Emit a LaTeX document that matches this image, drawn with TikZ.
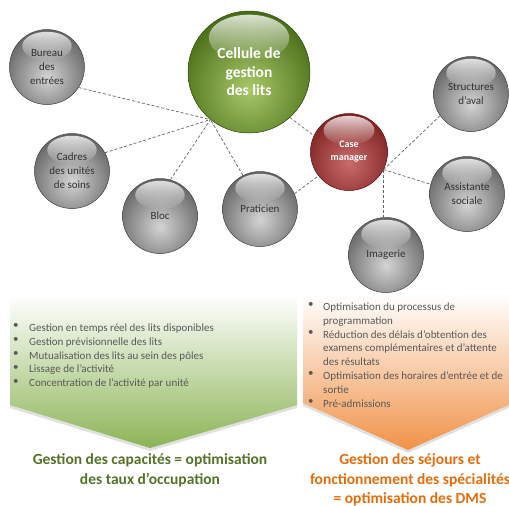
\documentclass[tikz,border=0pt]{standalone}
\usepackage{fontspec}
\setmainfont{Carlito}
\usetikzlibrary{fadings,calc}
\definecolor{gdark}{RGB}{100,100,100}
\definecolor{glight}{RGB}{212,212,212}
\definecolor{vdark}{RGB}{72,108,22}
\definecolor{vlight}{RGB}{168,200,105}
\definecolor{rdark}{RGB}{128,34,34}
\definecolor{rlight}{RGB}{200,108,108}
\definecolor{lbltext}{RGB}{50,50,50}
\definecolor{bultext}{RGB}{89,89,89}
\definecolor{chgreen}{RGB}{140,180,86}
\definecolor{chorange}{RGB}{240,146,72}
\definecolor{ttlgreen}{RGB}{84,114,40}
\definecolor{ttlorange}{RGB}{228,108,10}
\definecolor{lnk}{RGB}{100,100,100}
\begin{document}
\begin{tikzpicture}[x=1pt,y=-1pt,
  sph/.style n args={3}{circle, minimum size=#3pt, inner sep=0pt,
    draw=#1!75!black, line width=0.5pt, fill=#1,
    path picture={
      \shade[inner color=#2, outer color=#1]
        ([yshift=-0.16*#3pt]path picture bounding box.center) circle (0.62*#3);
      \fill[white, path fading=south, fill opacity=0.8]
        ([yshift=0.28*#3pt]path picture bounding box.center) ellipse (0.33*#3 and 0.19*#3);
    }},
  graysph/.style={sph={gdark}{glight}{75}, text=lbltext, align=center,
    font=\fontsize{11}{14}\selectfont},
  greensph/.style={sph={vdark}{vlight}{122}, text=white, align=center,
    font=\fontsize{15.5}{18.5}\selectfont\bfseries},
  redsph/.style={sph={rdark}{rlight}{77}, text=white, align=center,
    font=\fontsize{10}{13}\selectfont\bfseries},
  link/.style={draw=lnk, line width=0.7pt, dash pattern=on 3pt off 2pt},
  bullist/.style={anchor=north west, inner sep=0pt, align=left, text=bultext,
    font=\fontsize{11}{13.85}\selectfont},
  ttl/.style={anchor=north, inner sep=0pt, align=center,
    font=\fontsize{15.5}{19.5}\selectfont\bfseries},
  chshadow/.style={fill=black, fill opacity=0.12}
]
\useasboundingbox (0,0) rectangle (509,506);

% chevrons
\fill[chshadow] (10,298) -- (297,298) -- (297,408) -- (150,451) -- (10,408) -- cycle;
\fill[chshadow] (303,298) -- (513,298) -- (513,406) -- (408,453) -- (303,406) -- cycle;
\shade[top color=white, bottom color=chgreen]
  (10,295) -- (297,295) -- (297,405) -- (150,448) -- (10,405) -- cycle;
\shade[top color=white, bottom color=chorange]
  (303,295) -- (513,295) -- (513,403) -- (408,450) -- (303,403) -- cycle;

% spheres
\node[graysph] (bureau) at (47,67) {Bureau\\des\\entrées};
\node[graysph] (cadres) at (72,171) {Cadres\\des unités\\de soins};
\node[graysph] (bloc) at (160,216) {Bloc};
\node[graysph] (prat) at (260,209) {Praticien};
\node[greensph] (cell) at (249,72) {Cellule de\\gestion\\des lits};
\node[redsph] (case) at (349,152) {Case\\manager};
\node[graysph] (struct) at (471,94) {Structures\\d’aval};
\node[graysph] (assist) at (467,194) {Assistante\\sociale};
\node[graysph] (imag) at (386,255) {Imagerie};

% connectors
\coordinate (hub) at (cell.-129);
\coordinate (chub) at (case.-27);
\draw[link] (bureau.-33) -- (hub);
\draw[link] (cadres.29) -- (hub);
\draw[link] (bloc.74) -- (hub);
\draw[link] (prat.117) -- (hub);
\draw[link] (cell.-48) -- (case.155);
\draw[link] (prat.24) -- (case.218);
\draw[link] (chub) -- (struct.215);
\draw[link] (chub) -- (assist.165);
\draw[link] (chub) -- (chub |- imag.north);

% green list
\node[bullist] (gbul) at (13,323.5) {•\\•\\•\\•\\•};
\node[bullist] (glist) at (29,323.5) {Gestion en temps réel des lits disponibles\\
Gestion prévisionnelle des lits\\
Mutualisation des lits au sein des pôles\\
Lissage de l’activité\\
Concentration de l’activité par unité};

% orange list
\node[bullist] (obul) at (308,302.5) {•\\[13.85pt]•\\[27.7pt]•\\[13.85pt]•};
\node[bullist] (olist) at (323,302.5) {Optimisation du processus de\\
programmation\\
Réduction des délais d’obtention des\\
examens complémentaires et d’attente\\
des résultats\\
Optimisation des horaires d’entrée et de\\
sortie\\
Pré-admissions};

% titles
\node[ttl, text=ttlgreen] (gttl) at (150,453.5) {Gestion des capacités = optimisation\\des taux d’occupation};
\node[ttl, text=ttlorange] (ottl) at (410,453.5) {Gestion des séjours et\\fonctionnement des spécialités\\= optimisation des DMS};
\end{tikzpicture}
\end{document}
